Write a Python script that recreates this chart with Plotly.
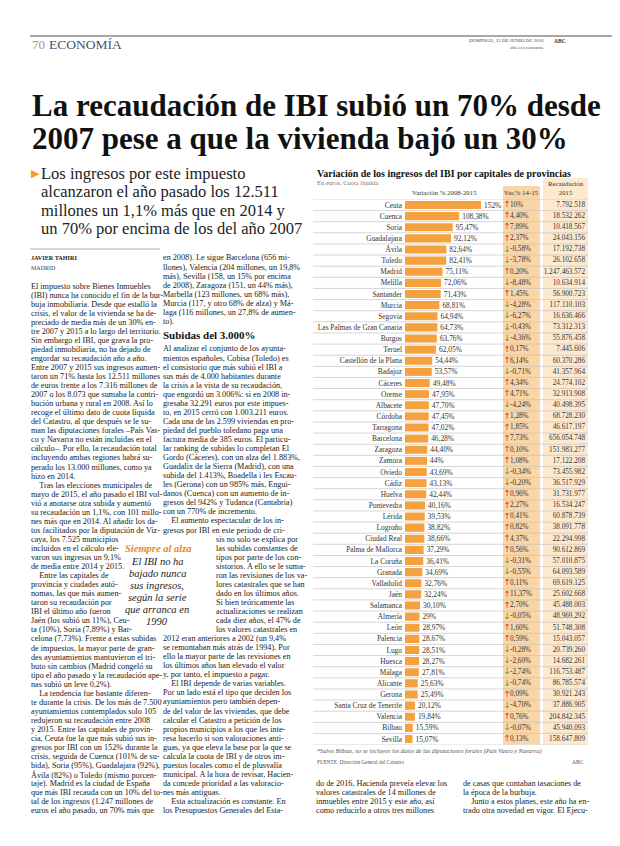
import plotly.graph_objects as go

# ---------------- DATA ----------------
cities = ["Ceuta", "Cuenca", "Soria", "Guadalajara", "Ávila", "Toledo", "Madrid", "Melilla",
          "Santander", "Murcia", "Segovia", "Las Palmas de Gran Canaria", "Burgos", "Teruel",
          "Castellón de la Plana", "Badajoz", "Cáceres", "Orense", "Albacete", "Córdoba",
          "Tarragona", "Barcelona", "Zaragoza", "Zamora", "Oviedo", "Cádiz", "Huelva",
          "Pontevedra", "Lérida", "Logroño", "Ciudad Real", "Palma de Mallorca", "La Coruña",
          "Granada", "Valladolid", "Jaén", "Salamanca", "Almería", "León", "Palencia", "Lugo",
          "Huesca", "Málaga", "Alicante", "Gerona", "Santa Cruz de Tenerife", "Valencia",
          "Bilbao", "Sevilla"]
var_08_15 = [152, 108.38, 95.47, 92.12, 82.64, 82.41, 75.11, 72.06, 71.43, 68.81, 64.94, 64.73,
             63.76, 62.05, 54.44, 53.57, 49.48, 47.95, 47.70, 47.45, 47.02, 46.28, 44.40, 44,
             43.69, 43.13, 42.44, 40.16, 39.53, 38.82, 38.66, 37.29, 36.41, 34.69, 32.76, 32.24,
             30.10, 29, 28.97, 28.67, 28.51, 28.27, 27.81, 25.63, 25.49, 20.12, 19.84, 15.59, 15.07]
var_14_15 = [10, 4.40, 7.89, 2.37, -0.58, -3.78, 0.20, -8.48, 1.45, -4.28, -6.27, -0.43, -4.36,
             0.17, 6.14, -0.71, 4.34, 4.71, -4.24, 1.28, 1.85, 7.73, 0.10, 1.08, -0.34, -0.20,
             0.96, 2.27, 0.41, 0.82, 4.37, 0.56, -0.31, -0.55, 0.11, 11.37, 2.70, -0.05, 1.60,
             0.59, -0.28, -2.60, -2.74, -0.74, 0.09, -4.70, 0.76, -0.07, 0.13]
recaud_2015 = [7792518, 18532262, 10418567, 24043156, 17192738, 26102658, 1247463572, 10634914,
               56900723, 117110103, 16636466, 73312313, 55876458, 7445606, 60370286, 41357964,
               24774102, 32913908, 40498395, 68728230, 46617197, 656054748, 151983277, 17122208,
               73455982, 36517929, 31731977, 16534247, 60878739, 38091778, 22294998, 90612869,
               57010875, 64093589, 69619125, 25602668, 45488003, 48969292, 51748308, 15043057,
               20739260, 14682261, 116753487, 86785574, 30921243, 37886905, 204842345, 45940093,
               158647809]

chart_title = "Variación de los ingresos del IBI por capitales de provincias"
chart_subtitle = "En euros. Cuota líquida"
col_headers = ["Variación % 2008-2015", "Var.% 14-15", "Recaudación<br>2015"]
footnote = "*Salvo Bilbao, no se incluyen los datos de las diputaciones forales (País Vasco y Navarra)"
source = "FUENTE: Dirección General del Catastro"

headline = ["La recaudación de IBI subió un 70% desde",
            "2007 pese a que la vivienda bajó un 30%"]
deck = ["Los ingresos por este impuesto",
        "alcanzaron el año pasado los 12.511",
        "millones un 1,1% más que en 2014 y",
        "un 70% por encima de los del año 2007"]

left_col = [
    "El impuesto sobre Bienes Inmuebles",
    "(IBI) nunca ha conocido el fin de la bur-",
    "buja inmobiliaria. Desde que estalló la",
    "crisis, el valor de la vivienda se ha de-",
    "preciado de media más de un 30% en-",
    "tre 2007 y 2015 a lo largo del territorio.",
    "Sin embargo el IBI, que grava la pro-",
    "piedad inmobiliaria, no ha dejado de",
    "engordar su recaudación año a año.",
    "Entre 2007 y 2015 sus ingresos aumen-",
    "taron un 71% hasta los 12.511 millones",
    "de euros frente a los 7.316 millones de",
    "2007 o los 8.073 que sumaba la contri-",
    "bución urbana y rural en 2008. Así lo",
    "recoge el último dato de cuota líquida",
    "del Catastro, al que después se le su-",
    "man las diputaciones forales –País Vas-",
    "co y Navarra no están incluidas en el",
    "cálculo–. Por ello, la recaudación total",
    "incluyendo ambas regiones habrá su-",
    "perado los 13.000 millones, como ya",
    "hizo en 2014.",
    "\u2003Tras las elecciones municipales de",
    "mayo de 2015, el año pasado el IBI vol-",
    "vió a anotarse otra subida y aumentó",
    "su recaudación un 1,1%, con 101 millo-",
    "nes más que en 2014. Al añadir los da-",
    "tos facilitados por la diputación de Viz-",
    "caya, los 7.525 municipios",
    "incluidos en el cálculo ele-",
    "varon sus ingresos un 9,1%",
    "de media entre 2014 y 2015.",
    "\u2003Entre las capitales de",
    "provincia y ciudades autó-",
    "nomas, las que más aumen-",
    "taron su recaudación por",
    "IBI el último año fueron",
    "Jaén (los subió un 11%), Ceu-",
    "ta (10%), Soria (7,89%) y Bar-",
    "celona (7,73%). Frente a estas subidas",
    "de impuestos, la mayor parte de gran-",
    "des ayuntamientos mantuvieron el tri-",
    "buto sin cambios (Madrid congeló su",
    "tipo el año pasado y la recaudación ape-",
    "nas subió un leve 0,2%).",
    "\u2003La tendencia fue bastante diferen-",
    "te durante la crisis. De los más de 7.500",
    "ayuntamientos contemplados solo 105",
    "redujeron su recaudación entre 2008",
    "y 2015. Entre las capitales de provin-",
    "cia, Ceuta fue la que más subió sus in-",
    "gresos por IBI con un 152% durante la",
    "crisis, seguida de Cuenca (101% de su-",
    "bida), Soria (95%), Guadalajara (92%),",
    "Ávila (82%) o Toledo (mismo porcen-",
    "taje). Madrid es la ciudad de España",
    "que más IBI recauda con un 10% del to-",
    "tal de los ingresos (1.247 millones de",
    "euros el año pasado, un 70% más que",
]

mid_col_top = [
    "en 2008). Le sigue Barcelona (656 mi-",
    "llones), Valencia (204 millones, un 19,8%",
    "más), Sevilla (158, un 15% por encima",
    "de 2008), Zaragoza (151, un 44% más),",
    "Marbella (123 millones, un 68% más),",
    "Murcia (117, y otro 68% de alza) y Má-",
    "laga (116 millones, un 27,8% de aumen-",
    "to).",
]
mid_subhead = "Subidas del 3.000%"
mid_col = [
    "Al analizar el conjunto de los ayunta-",
    "mientos españoles, Cobisa (Toledo) es",
    "el consistorio que más subió el IBI a",
    "sus más de 4.000 habitantes durante",
    "la crisis a la vista de su recaudación,",
    "que engordó un 3.006%: si en 2008 in-",
    "gresaba 32.291 euros por este impues-",
    "to, en 2015 cerró con 1.003.211 euros.",
    "Cada una de las 2.599 viviendas en pro-",
    "piedad del pueblo toledano paga una",
    "factura media de 385 euros. El particu-",
    "lar ranking de subidas lo completan El",
    "Gordo (Cáceres), con un alza del 1.883%,",
    "Guadalix de la Sierra (Madrid), con una",
    "subida del 1.413%, Boadella i les Escau-",
    "les (Gerona) con un 985% más, Engui-",
    "danos (Cuenca) con un aumento de in-",
    "gresos del 942% y Tudanca (Cantabria)",
    "con un 770% de incremento.",
    "\u2003El aumento espectacular de los in-",
    "gresos por IBI en este periodo de cri-",
    "sis no solo se explica por",
    "las subidas constantes de",
    "tipos por parte de los con-",
    "sistorios. A ello se le suma-",
    "ron las revisiones de los va-",
    "lores catastrales que se han",
    "dado en los últimos años.",
    "Si bien teóricamente las",
    "actualizaciones se realizan",
    "cada diez años, el 47% de",
    "los valores catastrales en",
    "2012 eran anteriores a 2002 (un 9,4%",
    "se remontaban más atrás de 1994). Por",
    "ello la mayor parte de las revisiones en",
    "los últimos años han elevado el valor",
    "y, por tanto, el impuesto a pagar.",
    "\u2003El IBI depende de varias variables.",
    "Por un lado está el tipo que deciden los",
    "ayuntamientos pero también depen-",
    "de del valor de las viviendas, que debe",
    "calcular el Catastro a petición de los",
    "propios municipios a los que les inte-",
    "resa hacerlo si son valoraciones anti-",
    "guas, ya que eleva la base por la que se",
    "calcula la cuota de IBI y de otros im-",
    "puestos locales como el de plusvalía",
    "municipal. A la hora de revisar, Hacien-",
    "da concede prioridad a las valoracio-",
    "nes más antiguas.",
    "\u2003Esta actualización es constante. En",
    "los Presupuestos Generales del Esta-",
]
pull_title = "Siempre al alza"
pull_lines = ["El IBI no ha", "bajado nunca", "sus ingresos,", "según la serie",
              "que arranca en", "1990"]
bottom_a = ["do de 2016, Hacienda preveía elevar los",
            "valores catastrales de 14 millones de",
            "inmuebles entre 2015 y este año, así",
            "como reducirlo a otros tres millones"]
bottom_b = ["de casas que contaban tasaciones de",
            "la época de la burbuja.",
            "\u2003Junto a estos planes, este año ha en-",
            "trado otra novedad en vigor. El Ejecu-"]

# ---------------- HELPERS ----------------
PAGE_W, PAGE_H = 620, 846
OFF = 8                      # default body margin of the html page
W, H = PAGE_W - OFF, PAGE_H - OFF
SERIF = "Liberation Serif"


def px(x):
    return (x - OFF) / W


def py(y):
    return 1 - (y - OFF) / H


def fmt_pct(v):
    if float(v).is_integer():
        return f"{int(v)}%"
    return f"{v:.2f}%".replace(".", ",")


def fmt_int(v):
    return f"{v:,}".replace(",", ".")


ann = []


def text(x, y, s, size=8.2, color="#222", anchor="left", bold=False, italic=False,
         family=SERIF, yanchor="middle"):
    if bold:
        s = f"<b>{s}</b>"
    if italic:
        s = f"<i>{s}</i>"
    ann.append(dict(x=px(x), y=py(y), xref="paper", yref="paper", text=s,
                    showarrow=False, xanchor=anchor, yanchor=yanchor,
                    font=dict(family=family, size=size, color=color),
                    borderpad=0, align=anchor if anchor != "center" else "center"))


shapes = []

# ---------------- PAGE HEADER ----------------
shapes.append(dict(type="line", xref="paper", yref="paper", x0=px(30), x1=1, y0=py(36), y1=py(36),
                   line=dict(color="#8a8a8a", width=1.5)))
text(31, 45, "70", size=13, color="#9a9a9a")
text(48, 45, "ECONOMÍA", size=13.5, color="#3b5670")
text(545, 41, "DOMINGO, 12 DE JUNIO DE 2016", size=5, color="#444", anchor="right")
text(553, 41, "<b>ABC</b>", size=5.5, color="#333")
text(545, 48, "abc.es/economia", size=5, color="#555", anchor="right")

for i, line in enumerate(headline):
    text(31, 106 + i * 32, line, size=31, color="#111", bold=True)

# Deck
text(30, 173, "▶", size=11, color="#F29B2E", family="DejaVu Sans")
for i, line in enumerate(deck):
    text(40, 173 + i * 18.5, line, size=16.5, color="#222")

shapes.append(dict(type="line", xref="paper", yref="paper", x0=px(30), x1=px(160),
                   y0=py(249), y1=py(249), line=dict(color="#999", width=0.8)))
text(30, 258, "JAVIER TAHIRI", size=6.2, color="#222", bold=True)
text(30, 268, "MADRID", size=6, color="#444")

# Body columns
LS = 9.05
for i, line in enumerate(left_col):
    text(30, 286 + i * LS, line)
for i, line in enumerate(mid_col_top):
    text(162, 258 + i * LS, line)
text(162, 335, mid_subhead, size=11, color="#111", bold=True)
for i, line in enumerate(mid_col):
    x0 = 215 if 21 <= i <= 31 else 162
    text(x0, 349 + i * LS, line)

# Pull quote
text(158, 548, pull_title, size=10.5, color="#E8892A", bold=True, italic=True, anchor="center")
for i, line in enumerate(pull_lines):
    text(157, 561 + i * 12, line, size=10.5, color="#222", italic=True, anchor="center")

for i, line in enumerate(bottom_a):
    text(315, 783 + i * LS, line)
for i, line in enumerate(bottom_b):
    text(462, 783 + i * LS, line)

# ---------------- CHART ----------------
n = len(cities)
ROW_TOP, ROW_BOT = 205, 739
step = (ROW_BOT - ROW_TOP) / (n - 1)
y_top_px = ROW_TOP - step / 2
y_bot_px = ROW_BOT + step / 2

X0_PX = 405
PX_PER_UNIT = 0.5


def xdata(pxx):
    return (pxx - X0_PX) / PX_PER_UNIT


text(316, 173, chart_title, size=10, color="#111", bold=True)
text(316, 183, chart_subtitle, size=6.5, color="#777")
text(444, 192, col_headers[0], size=6.8, color="#333", anchor="center")
text(521, 192, col_headers[1], size=6.8, color="#333", anchor="center")
text(566, 188, col_headers[2], size=6.8, color="#333", anchor="center")

# column backgrounds
shapes.append(dict(type="rect", xref="paper", yref="paper", x0=px(503), x1=px(540),
                   y0=py(y_bot_px), y1=py(186), fillcolor="#FAD5A5", line=dict(width=0),
                   layer="below"))
shapes.append(dict(type="rect", xref="paper", yref="paper", x0=px(543), x1=px(588),
                   y0=py(y_bot_px), y1=py(178), fillcolor="#FDE9CF", line=dict(width=0),
                   layer="below"))
# row separators
for i in range(n + 1):
    shapes.append(dict(type="line", xref="paper", yref="y", x0=px(313), x1=px(588),
                       y0=i - 0.5, y1=i - 0.5, line=dict(color="#c4c4c4", width=0.7),
                       layer="below"))

fig = go.Figure()
fig.add_trace(go.Bar(
    x=var_08_15, y=cities, orientation="h", width=0.72,
    marker=dict(color="#F5A23E", line=dict(width=0)),
    text=[fmt_pct(v) for v in var_08_15], textposition="outside",
    textfont=dict(family=SERIF, size=7.4, color="#333"), constraintext="none",
    cliponaxis=False, hoverinfo="skip"))

arrows = ["↑" if v >= 0 else "↓" for v in var_14_15]
arrow_colors = ["#D63A2A" if v >= 0 else "#4E9A3C" for v in var_14_15]
fig.add_trace(go.Scatter(
    x=[xdata(507)] * n, y=cities, mode="text", text=arrows,
    textfont=dict(family="DejaVu Sans", size=8.5, color=arrow_colors),
    textposition="middle center", cliponaxis=False, hoverinfo="skip"))
fig.add_trace(go.Scatter(
    x=[xdata(510)] * n, y=cities, mode="text", text=[fmt_pct(v) for v in var_14_15],
    textfont=dict(family=SERIF, size=7.2, color="#333"),
    textposition="middle right", cliponaxis=False, hoverinfo="skip"))
fig.add_trace(go.Scatter(
    x=[xdata(585)] * n, y=cities, mode="text", text=[fmt_int(v) for v in recaud_2015],
    textfont=dict(family=SERIF, size=7.2, color="#333"),
    textposition="middle left", cliponaxis=False, hoverinfo="skip"))

text(316, 751, footnote, size=6.2, color="#555", italic=True)
text(316, 762, source, size=5.2, color="#555")
text(585, 762, "ABC", size=5.5, color="#555", anchor="right")

fig.update_layout(
    width=W, height=H, margin=dict(l=0, r=0, t=0, b=0),
    paper_bgcolor="white", plot_bgcolor="rgba(0,0,0,0)", showlegend=False,
    xaxis=dict(domain=[px(X0_PX), 1.0], range=[0, (PAGE_W - X0_PX) / PX_PER_UNIT],
               visible=False, fixedrange=True),
    yaxis=dict(domain=[py(y_bot_px), py(y_top_px)], type="category",
               categoryorder="array", categoryarray=cities, range=[n - 0.5, -0.5],
               showgrid=False, zeroline=False, showline=False, ticks="",
               tickfont=dict(family=SERIF, size=7.4, color="#333"),
               ticklabelstandoff=2, fixedrange=True),
    annotations=ann, shapes=shapes,
    font=dict(family=SERIF),
)

fig.write_html("out.html")
